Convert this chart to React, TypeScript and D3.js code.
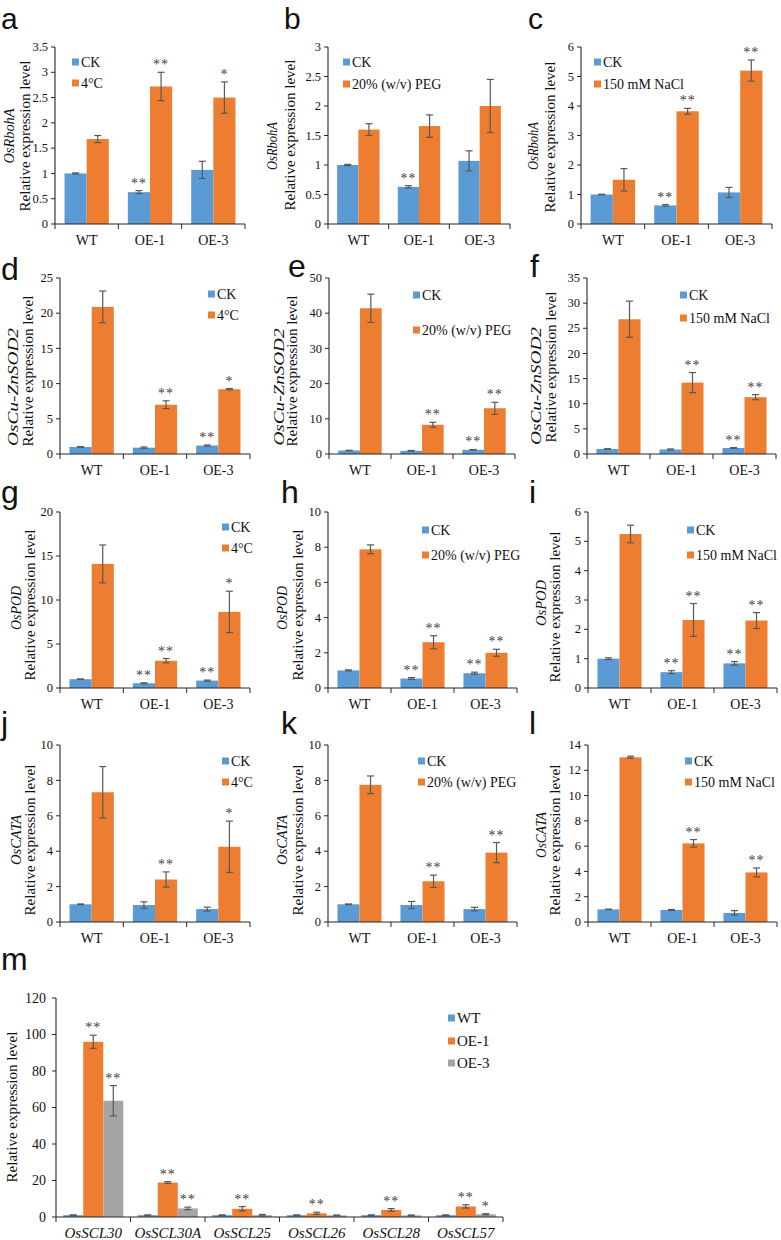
import React, { useEffect } from "react";
import * as d3 from "d3";

// ---------- categories & labels ----------
const lines = ["WT", "OE-1", "OE-3"];
const ckName = "CK";
const coldName = "4°C";
const pegName = "20% (w/v) PEG";
const saltName = "150 mM NaCl";
const sclGenes = ["OsSCL30", "OsSCL30A", "OsSCL25", "OsSCL26", "OsSCL28", "OsSCL57"];
const yTitle = "Relative expression level";

// ---------- OsRbohA (a, b, c) ----------
const rbohCK = [1.0, 0.63, 1.07];
const rbohCKErr = [0.01, 0.03, 0.17];
const rbohCKSig = ["", "**", ""];
const rbohCold = [1.68, 2.72, 2.5];
const rbohColdErr = [0.07, 0.28, 0.31];
const rbohColdSig = ["", "**", "*"];
const rbohPeg = [1.6, 1.66, 2.0];
const rbohPegErr = [0.1, 0.19, 0.45];
const rbohPegSig = ["", "", ""];
const rbohSalt = [1.5, 3.82, 5.2];
const rbohSaltErr = [0.38, 0.1, 0.36];
const rbohSaltSig = ["", "**", "**"];

// ---------- OsCu-ZnSOD2 (d, e, f) ----------
const sodCK = [1.0, 0.9, 1.2];
const sodCKErr = [0.05, 0.1, 0.08];
const sodCKSig = ["", "", "**"];
const sodCold = [20.9, 7.0, 9.2];
const sodColdErr = [2.25, 0.55, 0.1];
const sodColdSig = ["", "**", "*"];
const sodPeg = [41.4, 8.3, 13.0];
const sodPegErr = [4.0, 0.7, 1.7];
const sodPegSig = ["", "**", "**"];
const sodSalt = [26.8, 14.2, 11.3];
const sodSaltErr = [3.6, 2.0, 0.5];
const sodSaltSig = ["", "**", "**"];

// ---------- OsPOD (g, h, i) ----------
const podCK = [1.0, 0.54, 0.84];
const podCKErr = [0.03, 0.05, 0.06];
const podCKSig = ["", "**", "**"];
const podCold = [14.1, 3.1, 8.65];
const podColdErr = [2.15, 0.25, 2.35];
const podColdSig = ["", "**", "*"];
const podPeg = [7.88, 2.6, 2.0];
const podPegErr = [0.25, 0.37, 0.2];
const podPegSig = ["", "**", "**"];
const podSalt = [5.25, 2.32, 2.3];
const podSaltErr = [0.3, 0.56, 0.27];
const podSaltSig = ["", "**", "**"];

// ---------- OsCATA (j, k, l) ----------
const cataCK = [1.0, 0.96, 0.73];
const cataCKErr = [0.02, 0.18, 0.11];
const cataCKSig = ["", "", ""];
const cataCK2 = [1.0, 0.95, 0.72];
const cataCK2Err = [0.02, 0.04, 0.18];
const cataCold = [7.33, 2.4, 4.25];
const cataColdErr = [1.45, 0.43, 1.45];
const cataColdSig = ["", "**", "*"];
const cataPeg = [7.75, 2.3, 3.92];
const cataPegErr = [0.5, 0.35, 0.57];
const cataPegSig = ["", "**", "**"];
const cataSalt = [13.03, 6.22, 3.92];
const cataSaltErr = [0.08, 0.3, 0.35];
const cataSaltSig = ["", "**", "**"];

// ---------- panel m ----------
const mWT = [1.0, 1.0, 1.0, 1.0, 1.0, 1.0];
const mWTErr = [0.15, 0.15, 0.15, 0.15, 0.15, 0.15];
const mWTSig = ["", "", "", "", "", ""];
const mOE1 = [96.0, 18.9, 4.5, 2.0, 3.9, 5.8];
const mOE1Err = [3.6, 0.5, 1.2, 0.6, 0.7, 0.9];
const mOE1Sig = ["**", "**", "**", "**", "**", "**"];
const mOE3 = [63.7, 4.7, 1.0, 0.9, 0.9, 1.5];
const mOE3Err = [8.3, 0.7, 0.4, 0.2, 0.2, 0.3];
const mOE3Sig = ["**", "**", "", "", "", "*"];

// ---------- styles ----------
const BLUE = "#5B9BD5";
const ORANGE = "#ED7D31";
const GRAY = "#A5A5A5";
const ERR = "#595959";
const AXIS = "#262626";
const SERIF = '"Liberation Serif", "Times New Roman", "DejaVu Serif", serif';
const SANS = '"Liberation Sans", Arial, "DejaVu Sans", sans-serif';

type Series = { name: string; color: string; values: number[]; errs: number[]; sig: string[] };

type Spec = {
  id: string;
  gene?: string;
  cats: string[];
  series: Series[];
  yMax: number;
  yStep: number;
};

const mk = (name: string, color: string, values: number[], errs: number[], sig: string[]): Series => ({
  name, color, values, errs, sig,
});

const specs: Spec[] = [
  { id: "a", gene: "OsRbohA", cats: lines, yMax: 3.5, yStep: 0.5, series: [mk(ckName, BLUE, rbohCK, rbohCKErr, rbohCKSig), mk(coldName, ORANGE, rbohCold, rbohColdErr, rbohColdSig)] },
  { id: "b", gene: "OsRbohA", cats: lines, yMax: 3, yStep: 0.5, series: [mk(ckName, BLUE, rbohCK, [0.01, 0.02, 0.17], rbohCKSig), mk(pegName, ORANGE, rbohPeg, rbohPegErr, rbohPegSig)] },
  { id: "c", gene: "OsRbohA", cats: lines, yMax: 6, yStep: 1, series: [mk(ckName, BLUE, rbohCK, rbohCKErr, rbohCKSig), mk(saltName, ORANGE, rbohSalt, rbohSaltErr, rbohSaltSig)] },
  { id: "d", gene: "OsCu-ZnSOD2", cats: lines, yMax: 25, yStep: 5, series: [mk(ckName, BLUE, sodCK, sodCKErr, sodCKSig), mk(coldName, ORANGE, sodCold, sodColdErr, sodColdSig)] },
  { id: "e", gene: "OsCu-ZnSOD2", cats: lines, yMax: 50, yStep: 10, series: [mk(ckName, BLUE, sodCK, sodCKErr, sodCKSig), mk(pegName, ORANGE, sodPeg, sodPegErr, sodPegSig)] },
  { id: "f", gene: "OsCu-ZnSOD2", cats: lines, yMax: 35, yStep: 5, series: [mk(ckName, BLUE, sodCK, sodCKErr, sodCKSig), mk(saltName, ORANGE, sodSalt, sodSaltErr, sodSaltSig)] },
  { id: "g", gene: "OsPOD", cats: lines, yMax: 20, yStep: 5, series: [mk(ckName, BLUE, podCK, podCKErr, podCKSig), mk(coldName, ORANGE, podCold, podColdErr, podColdSig)] },
  { id: "h", gene: "OsPOD", cats: lines, yMax: 10, yStep: 2, series: [mk(ckName, BLUE, podCK, podCKErr, podCKSig), mk(pegName, ORANGE, podPeg, podPegErr, podPegSig)] },
  { id: "i", gene: "OsPOD", cats: lines, yMax: 6, yStep: 1, series: [mk(ckName, BLUE, podCK, podCKErr, podCKSig), mk(saltName, ORANGE, podSalt, podSaltErr, podSaltSig)] },
  { id: "j", gene: "OsCATA", cats: lines, yMax: 10, yStep: 2, series: [mk(ckName, BLUE, cataCK, cataCKErr, cataCKSig), mk(coldName, ORANGE, cataCold, cataColdErr, cataColdSig)] },
  { id: "k", gene: "OsCATA", cats: lines, yMax: 10, yStep: 2, series: [mk(ckName, BLUE, cataCK, [0.02, 0.2, 0.1], cataCKSig), mk(pegName, ORANGE, cataPeg, cataPegErr, cataPegSig)] },
  { id: "l", gene: "OsCATA", cats: lines, yMax: 14, yStep: 2, series: [mk(ckName, BLUE, cataCK2, cataCK2Err, cataCKSig), mk(saltName, ORANGE, cataSalt, cataSaltErr, cataSaltSig)] },
  { id: "m", cats: sclGenes, yMax: 120, yStep: 20, series: [mk("WT", BLUE, mWT, mWTErr, mWTSig), mk("OE-1", ORANGE, mOE1, mOE1Err, mOE1Sig), mk("OE-3", GRAY, mOE3, mOE3Err, mOE3Sig)] },
];

// ---------- layout (positions only) ----------
type Lay = {
  x0: number; x1: number; y0: number; yTop: number;
  lx: number; ly: number; lfs: number;
  geneX?: number; geneCy?: number; geneLen?: number; geneFs?: number;
  relX: number; relCy: number;
  legX: number; legY: number[];
};
const R1 = { y0: 224, yTop: 47, lfs: 30 };
const R2 = { y0: 454, yTop: 278, lfs: 32 };
const R3 = { y0: 688, yTop: 512, lfs: 32 };
const R4 = { y0: 922, yTop: 745, lfs: 32 };
const layout: Record<string, Lay> = {
  a: { ...R1, x0: 55, x1: 245, lx: 1, ly: 29, geneX: 14, geneCy: 136, geneLen: 55, geneFs: 15, relX: 30, relCy: 136, legX: 72, legY: [62, 83] },
  b: { ...R1, x0: 328, x1: 510, lx: 284, ly: 29, geneX: 277, geneCy: 146, geneLen: 48, geneFs: 15, relX: 295, relCy: 135, legX: 343, legY: [62, 84] },
  c: { ...R1, x0: 581, x1: 772, lx: 528, ly: 29, geneX: 538, geneCy: 146, geneLen: 48, geneFs: 15, relX: 555, relCy: 137, legX: 594, legY: [62, 84] },
  d: { ...R2, x0: 60, x1: 250, lx: 1, ly: 280, geneX: 18, geneCy: 387, geneLen: 118, geneFs: 15, relX: 33, relCy: 371, legX: 208, legY: [294, 315] },
  e: { ...R2, x0: 329, x1: 515, lx: 288, ly: 277, geneX: 284, geneCy: 387, geneLen: 117, geneFs: 15, relX: 297, relCy: 371, legX: 413, legY: [295, 330] },
  f: { ...R2, x0: 587, x1: 776, lx: 530, ly: 277, geneX: 541, geneCy: 386, geneLen: 118, geneFs: 15, relX: 556, relCy: 367, legX: 680, legY: [295, 318] },
  g: { ...R3, x0: 60, x1: 250, lx: 1, ly: 503, geneX: 21, geneCy: 608, geneLen: 44, geneFs: 14, relX: 35, relCy: 605, legX: 222, legY: [527, 548] },
  h: { ...R3, x0: 328, x1: 517, lx: 281, ly: 503, geneX: 287, geneCy: 608, geneLen: 44, geneFs: 14, relX: 303, relCy: 605, legX: 422, legY: [530, 555] },
  i: { ...R3, x0: 588, x1: 777, lx: 529, ly: 503, geneX: 546, geneCy: 603, geneLen: 46, geneFs: 14, relX: 560, relCy: 607, legX: 687, legY: [530, 555] },
  j: { ...R4, x0: 60, x1: 250, lx: 1, ly: 734, geneX: 21, geneCy: 840, geneLen: 50, geneFs: 14, relX: 35, relCy: 840, legX: 222, legY: [761, 782] },
  k: { ...R4, x0: 328, x1: 517, lx: 281, ly: 734, geneX: 287, geneCy: 840, geneLen: 50, geneFs: 14, relX: 303, relCy: 840, legX: 418, legY: [761, 782] },
  l: { ...R4, x0: 588, x1: 777, lx: 529, ly: 734, geneX: 546, geneCy: 835, geneLen: 46, geneFs: 14, relX: 560, relCy: 840, legX: 685, legY: [761, 782] },
  m: { y0: 1217, yTop: 998, lfs: 32, x0: 56, x1: 503, lx: 1, ly: 970, relX: 17, relCy: 1107, legX: 448, legY: [1018, 1041, 1063] },
};

function Panel({ spec }: { spec: Spec }) {
  const L = layout[spec.id];
  const isM = spec.id === "m";
  const y = d3.scaleLinear().domain([0, spec.yMax]).range([L.y0, L.yTop]);
  const x = d3.scaleBand<string>().domain(spec.cats).range([L.x0, L.x1]).padding(0);
  const inner = d3
    .scaleBand<string>()
    .domain(spec.series.map((s) => s.name))
    .range([0, x.bandwidth()])
    .paddingInner(0)
    .paddingOuter(isM ? 0.36 : 0.43);
  const ticks = d3.range(0, spec.yMax + spec.yStep / 2, spec.yStep);
  const tickFs = isM ? 14 : 12.5;
  const boundaries = spec.cats.map((c) => x(c)!).concat([L.x1]);
  const bw = inner.bandwidth();
  const serif = { fontFamily: SERIF };

  return (
    <g>
      {/* panel letter */}
      <text x={L.lx} y={L.ly} style={{ fontFamily: SANS }} fontSize={L.lfs} fill="#111">
        {spec.id}
      </text>

      {/* bars */}
      {spec.series.map((s) =>
        spec.cats.map((c, i) => {
          const bx = x(c)! + inner(s.name)!;
          return (
            <rect key={s.name + c} x={bx} y={y(s.values[i])} width={bw} height={L.y0 - y(s.values[i])} fill={s.color} />
          );
        })
      )}

      {/* error bars */}
      {spec.series.map((s) =>
        spec.cats.map((c, i) => {
          const cx = x(c)! + inner(s.name)! + bw / 2;
          const top = y(s.values[i] + s.errs[i]);
          const bot = y(Math.max(0, s.values[i] - s.errs[i]));
          return (
            <g key={"e" + s.name + c}>
              <line x1={cx} x2={cx} y1={top} y2={bot} stroke={ERR} strokeWidth={1.2} />
              <line x1={cx - 3.5} x2={cx + 3.5} y1={top} y2={top} stroke={ERR} strokeWidth={1.2} />
              <line x1={cx - 3.5} x2={cx + 3.5} y1={bot} y2={bot} stroke={ERR} strokeWidth={1.2} />
            </g>
          );
        })
      )}

      {/* significance stars */}
      <g opacity={0.999}>
        {spec.series.map((s) =>
          spec.cats.map((c, i) => {
            if (!s.sig[i]) return null;
            const cx = x(c)! + inner(s.name)! + bw / 2;
            const top = y(s.values[i] + s.errs[i]);
            return (
              <text key={"s" + s.name + c} x={cx} y={top - 3} textAnchor="middle" style={serif} fontSize={14} fill="#404040" letterSpacing={1}>
                {s.sig[i]}
              </text>
            );
          })
        )}
      </g>

      {/* axes */}
      <line x1={L.x0} x2={L.x0} y1={L.y0} y2={L.yTop} stroke={AXIS} strokeWidth={1.1} />
      <line x1={L.x0} x2={L.x1} y1={L.y0} y2={L.y0} stroke={AXIS} strokeWidth={1.1} />
      {ticks.map((t) => (
        <g key={"t" + t}>
          <line x1={L.x0 - 4} x2={L.x0} y1={y(t)} y2={y(t)} stroke={AXIS} strokeWidth={1} />
          <text x={L.x0 - (isM ? 10 : 7)} y={y(t) + tickFs * 0.33} textAnchor="end" style={serif} fontSize={tickFs} fill="#111">
            {String(t)}
          </text>
        </g>
      ))}
      {boundaries.map((b, i) => (
        <line key={"xb" + i} x1={b} x2={b} y1={L.y0} y2={L.y0 + 5} stroke={AXIS} strokeWidth={1} />
      ))}
      {spec.cats.map((c) => (
        <text
          key={"xl" + c}
          x={x(c)! + x.bandwidth() / 2}
          y={L.y0 + 21}
          textAnchor="middle"
          style={serif}
          fontSize={isM ? 15 : 14}
          fontStyle={isM ? "italic" : "normal"}
          fill="#111"
        >
          {c}
        </text>
      ))}

      {/* y titles */}
      {spec.gene ? (
        <text
          transform={`translate(${L.geneX},${L.geneCy}) rotate(-90)`}
          textAnchor="middle"
          style={serif}
          fontStyle="italic"
          fontSize={L.geneFs}
          textLength={L.geneLen}
          lengthAdjust="spacingAndGlyphs"
          fill="#111"
        >
          {spec.gene}
        </text>
      ) : null}
      <text transform={`translate(${L.relX},${L.relCy}) rotate(-90)`} textAnchor="middle" style={serif} fontSize={15} fill="#111">
        {yTitle}
      </text>

      {/* legend */}
      {spec.series.map((s, i) => (
        <g key={"lg" + s.name}>
          <rect x={L.legX} y={L.legY[i] - 3.5} width={7} height={7} fill={s.color} />
          <text x={L.legX + 9} y={L.legY[i] + 5} style={serif} fontSize={isM ? 15 : 14} fill="#111">
            {s.name}
          </text>
        </g>
      ))}
    </g>
  );
}

export default function App() {
  useEffect(() => {
    document.body.style.margin = "0";
    document.body.style.overflow = "hidden";
  }, []);
  return (
    <svg width={781} height={1240} viewBox="0 0 781 1240" style={{ position: "absolute", left: 0, top: 0, background: "#fff" }}>
      <rect x={0} y={0} width={781} height={1240} fill="#fff" />
      {specs.map((s) => (
        <Panel key={s.id} spec={s} />
      ))}
    </svg>
  );
}
